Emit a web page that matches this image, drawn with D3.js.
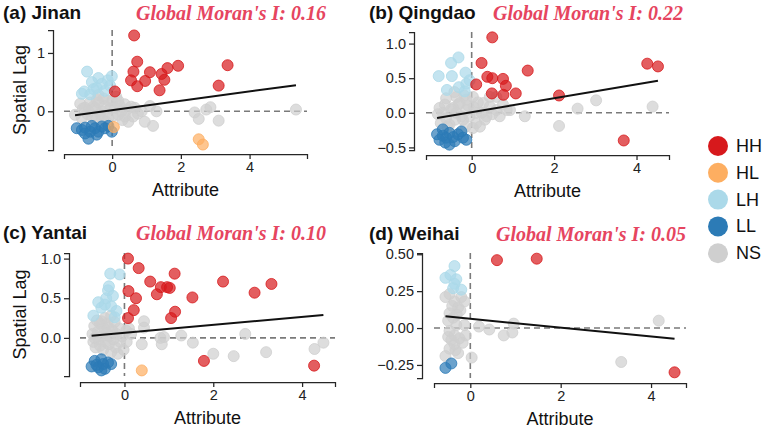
<!DOCTYPE html>
<html><head><meta charset="utf-8">
<script src="https://cdn.jsdelivr.net/npm/d3@7"></script>
<style>body{margin:0;background:#fff}svg{display:block}</style>
</head><body>
<svg id="chart" width="767" height="429"></svg>
<script>
// ---------- DATA ----------
const cities = ["Jinan", "Qingdao", "Yantai", "Weihai"];
const panelLetters = ["(a)", "(b)", "(c)", "(d)"];
const moranI = ["0.16", "0.22", "0.10", "0.05"];
const classes = ["HH", "HL", "LH", "LL", "NS"];
const classColors = ["#d7191c", "#fdae61", "#abd9e9", "#2c7bb6", "#cfcfcf"];
const regSlope = [0.08, 0.10, 0.05, -0.03];
const regIntercept = [0.02, 0.01, 0.065, 0.063];
const xTicks = [0, 2, 4];
const yTicksJinan = [0, 1];
const yTicksQingdao = [-0.5, 0, 0.5, 1.0];
const yTicksYantai = [0, 0.5, 1.0];
const yTicksWeihai = [-0.25, 0, 0.25, 0.5];

// [attribute, spatial lag, cluster]
const jinanPoints = [
  [-1.08,-0.06,"NS"],[-0.93,0.13,"NS"],[-0.88,-0.12,"NS"],[-0.85,0.05,"NS"],[-0.79,0.06,"NS"],[-0.72,-0.05,"NS"],
  [-0.69,0.0,"NS"],[-0.65,0.15,"NS"],[-0.59,-0.09,"NS"],[-0.55,0.08,"NS"],[-0.50,0.06,"NS"],[-0.48,-0.15,"NS"],
  [-0.45,0.2,"NS"],[-0.40,0.15,"NS"],[-0.40,0.28,"NS"],[-0.35,-0.05,"NS"],[-0.30,0.0,"NS"],[-0.30,-0.12,"NS"],
  [-0.25,0.22,"NS"],[-0.21,0.09,"NS"],[-0.18,-0.18,"NS"],[-0.11,0.18,"NS"],[-0.11,-0.12,"NS"],[-0.05,0.05,"NS"],
  [0.0,0.18,"NS"],[0.02,-0.08,"NS"],[0.08,0.06,"NS"],[0.12,0.25,"NS"],[0.18,0.18,"NS"],[0.18,-0.06,"NS"],
  [0.22,0.1,"NS"],[0.27,0.0,"NS"],[0.3,-0.15,"NS"],[0.37,0.12,"NS"],[0.37,-0.09,"NS"],[0.42,0.02,"NS"],
  [0.47,-0.18,"NS"],[0.55,0.08,"NS"],[0.61,-0.09,"NS"],[0.66,0.06,"NS"],[0.75,-0.04,"NS"],[0.86,0.0,"NS"],
  [0.95,-0.18,"NS"],[1.10,0.09,"NS"],[1.19,-0.25,"NS"],[1.29,0.0,"NS"],[2.40,-0.02,"NS"],[2.52,-0.13,"NS"],
  [2.74,0.03,"NS"],[2.86,0.07,"NS"],[3.10,-0.16,"NS"],[5.35,0.03,"NS"],
  [-0.73,0.68,"LH"],[-0.40,0.57,"LH"],[-0.01,0.60,"LH"],[-0.59,0.50,"LH"],[-0.13,0.53,"LH"],[-0.81,0.34,"LH"],
  [-0.45,0.40,"LH"],[-0.30,0.47,"LH"],[-0.64,0.29,"LH"],[-0.21,0.35,"LH"],[-0.06,0.44,"LH"],[-0.88,0.30,"LH"],[-0.54,0.38,"LH"],
  [-1.03,-0.29,"LL"],[-0.79,-0.28,"LL"],[-0.69,-0.47,"LL"],[-0.50,-0.29,"LL"],[-0.40,-0.35,"LL"],[-0.30,-0.26,"LL"],
  [-0.11,-0.25,"LL"],[-0.01,-0.35,"LL"],[-0.64,-0.35,"LL"],[-0.88,-0.32,"LL"],[-0.21,-0.29,"LL"],[-0.59,-0.25,"LL"],
  [-0.45,-0.40,"LL"],[-0.79,-0.38,"LL"],
  [0.05,-0.27,"HL"],[2.52,-0.48,"HL"],[2.64,-0.57,"HL"],
  [0.64,1.30,"HH"],[0.73,0.85,"HH"],[0.62,0.68,"HH"],[0.55,0.53,"HH"],[0.96,0.52,"HH"],[0.73,0.43,"HH"],
  [1.10,0.67,"HH"],[1.44,0.64,"HH"],[1.61,0.74,"HH"],[1.52,0.54,"HH"],[1.92,0.78,"HH"],[1.38,0.36,"HH"],
  [3.10,0.44,"HH"],[3.36,0.79,"HH"],[0.08,0.34,"HH"]
];
const qingdaoPoints = [
  [-0.82,-0.02,"NS"],[-0.78,0.07,"NS"],[-0.75,-0.15,"NS"],[-0.70,0.0,"NS"],[-0.65,0.12,"NS"],[-0.62,0.21,"NS"],
  [-0.62,-0.08,"NS"],[-0.58,-0.2,"NS"],[-0.54,-0.17,"NS"],[-0.5,0.05,"NS"],[-0.45,0.07,"NS"],[-0.42,0.3,"NS"],
  [-0.4,-0.1,"NS"],[-0.37,0.23,"NS"],[-0.37,0.0,"NS"],[-0.32,0.12,"NS"],[-0.29,0.14,"NS"],[-0.25,-0.05,"NS"],
  [-0.21,-0.10,"NS"],[-0.18,0.25,"NS"],[-0.15,-0.2,"NS"],[-0.13,0.19,"NS"],[-0.13,0.04,"NS"],[-0.08,0.1,"NS"],
  [-0.05,-0.05,"NS"],[0.03,0.23,"NS"],[0.03,-0.22,"NS"],[0.05,0.08,"NS"],[0.11,0.0,"NS"],[0.11,-0.15,"NS"],
  [0.15,0.15,"NS"],[0.2,-0.2,"NS"],[0.24,0.0,"NS"],[0.28,0.14,"NS"],[0.32,-0.1,"NS"],[0.36,-0.05,"NS"],
  [0.44,0.09,"NS"],[0.44,0.23,"NS"],[0.5,-0.02,"NS"],[0.6,0.23,"NS"],[0.6,0.04,"NS"],[0.68,-0.05,"NS"],
  [0.76,0.12,"NS"],[0.85,0.04,"NS"],[0.93,0.04,"NS"],[1.29,-0.05,"NS"],[2.12,-0.19,"NS"],[2.57,0.06,"NS"],
  [3.02,0.18,"NS"],[4.39,0.09,"NS"],
  [-0.50,0.72,"LH"],[-0.32,0.80,"LH"],[-0.80,0.53,"LH"],[-0.48,0.53,"LH"],[-0.15,0.58,"LH"],[-0.60,0.33,"LH"],
  [-0.31,0.37,"LH"],[-0.13,0.42,"LH"],[-0.17,0.31,"LH"],[-0.05,0.47,"LH"],
  [-0.78,-0.39,"LL"],[-0.70,-0.24,"LL"],[-0.54,-0.29,"LL"],[-0.54,-0.46,"LL"],[-0.33,-0.31,"LL"],[-0.21,-0.36,"LL"],
  [-0.62,-0.36,"LL"],[-0.41,-0.41,"LL"],[-0.25,-0.27,"LL"],[-0.84,-0.31,"LL"],[-0.13,-0.39,"LL"],[-0.64,-0.43,"LL"],
  [-0.70,-0.33,"LL"],[-0.45,-0.35,"LL"],
  [0.50,1.09,"HH"],[0.24,0.72,"HH"],[1.36,0.61,"HH"],[0.11,0.41,"HH"],[0.38,0.52,"HH"],[0.50,0.50,"HH"],
  [0.76,0.49,"HH"],[0.83,0.39,"HH"],[0.49,0.28,"HH"],[0.77,0.26,"HH"],[1.07,0.28,"HH"],[2.12,0.25,"HH"],
  [3.69,-0.40,"HH"],[4.26,0.71,"HH"],[4.52,0.67,"HH"]
];
const yantaiPoints = [
  [-0.72,0.05,"NS"],[-0.70,-0.05,"NS"],[-0.68,0.15,"NS"],[-0.67,0.0,"NS"],[-0.65,-0.12,"NS"],[-0.62,0.22,"NS"],
  [-0.6,0.08,"NS"],[-0.58,-0.02,"NS"],[-0.55,0.18,"NS"],[-0.55,-0.1,"NS"],[-0.52,0.21,"NS"],[-0.5,0.03,"NS"],
  [-0.48,-0.15,"NS"],[-0.46,0.12,"NS"],[-0.44,0.25,"NS"],[-0.42,-0.05,"NS"],[-0.40,0.06,"NS"],[-0.38,0.18,"NS"],
  [-0.37,0.13,"NS"],[-0.35,-0.08,"NS"],[-0.33,0.02,"NS"],[-0.3,0.28,"NS"],[-0.3,-0.18,"NS"],[-0.28,0.1,"NS"],
  [-0.25,-0.02,"NS"],[-0.22,0.2,"NS"],[-0.2,-0.12,"NS"],[-0.18,0.05,"NS"],[-0.15,-0.2,"NS"],[-0.12,0.12,"NS"],
  [-0.1,-0.05,"NS"],[-0.05,0.02,"NS"],[-0.02,-0.15,"NS"],[0.04,0.09,"NS"],[0.05,-0.05,"NS"],[0.1,0.12,"NS"],
  [0.15,0.05,"NS"],[0.44,0.21,"NS"],[0.44,0.13,"NS"],[0.39,-0.08,"NS"],[0.81,0.0,"NS"],[0.89,0.01,"NS"],
  [0.84,-0.08,"NS"],[1.28,0.03,"NS"],[1.54,-0.06,"NS"],[2.00,-0.20,"NS"],[2.46,-0.23,"NS"],[2.72,0.05,"NS"],
  [3.19,-0.18,"NS"],[4.28,-0.14,"NS"],[4.48,-0.06,"NS"],
  [-0.32,0.81,"LH"],[-0.11,0.80,"LH"],[-0.37,0.60,"LH"],[-0.35,0.65,"LH"],[-0.59,0.45,"LH"],[-0.44,0.42,"LH"],
  [-0.30,0.40,"LH"],[-0.52,0.38,"LH"],[-0.18,0.34,"LH"],[-0.70,0.28,"LH"],[-0.22,0.26,"LH"],[-0.41,0.50,"LH"],[-0.26,0.53,"LH"],
  [-0.67,-0.29,"LL"],[-0.52,-0.27,"LL"],[-0.37,-0.31,"LL"],[-0.59,-0.37,"LL"],[-0.44,-0.39,"LL"],[-0.74,-0.36,"LL"],
  [-0.30,-0.33,"LL"],[-0.52,-0.41,"LL"],[-0.63,-0.34,"LL"],[-0.48,-0.33,"LL"],
  [0.39,-0.41,"HL"],
  [0.08,1.00,"HH"],[0.32,0.88,"HH"],[0.58,0.71,"HH"],[1.13,0.81,"HH"],[0.82,0.64,"HH"],[0.96,0.64,"HH"],
  [1.02,0.63,"HH"],[0.73,0.55,"HH"],[0.09,0.59,"HH"],[0.26,0.50,"HH"],[0.21,0.35,"HH"],[0.08,0.25,"HH"],
  [1.14,0.33,"HH"],[1.05,0.25,"HH"],[1.53,0.51,"HH"],[2.22,0.71,"HH"],[2.93,0.57,"HH"],[3.31,0.68,"HH"],
  [1.79,-0.29,"HH"],[4.27,-0.35,"HH"]
];
const weihaiPoints = [
  [-0.55,0.21,"NS"],[-0.46,0.23,"NS"],[-0.35,0.18,"NS"],[-0.20,0.21,"NS"],[-0.13,0.18,"NS"],[-0.27,0.14,"NS"],
  [-0.46,0.10,"NS"],[-0.38,0.07,"NS"],[-0.49,0.05,"NS"],[-0.31,0.02,"NS"],[-0.46,-0.02,"NS"],[-0.35,-0.05,"NS"],
  [-0.49,-0.06,"NS"],[-0.24,-0.07,"NS"],[-0.17,-0.10,"NS"],[-0.35,-0.11,"NS"],[-0.46,-0.14,"NS"],[-0.27,-0.17,"NS"],
  [-0.55,-0.19,"NS"],[-0.10,-0.05,"NS"],[-0.13,0.02,"NS"],[-0.40,0.15,"NS"],[-0.30,0.09,"NS"],[-0.22,0.12,"NS"],
  [-0.42,-0.08,"NS"],[-0.33,-0.15,"NS"],[0.03,-0.20,"NS"],[0.19,0.01,"NS"],[0.42,-0.01,"NS"],[0.74,-0.05,"NS"],
  [0.93,-0.03,"NS"],[0.96,0.03,"NS"],[3.34,-0.23,"NS"],[4.17,0.05,"NS"],
  [-0.35,0.42,"LH"],[-0.55,0.34,"LH"],[-0.44,0.36,"LH"],[-0.31,0.33,"LH"],[-0.35,0.30,"LH"],[-0.38,0.27,"LH"],[-0.20,0.26,"LH"],
  [-0.55,-0.27,"LL"],[-0.42,-0.24,"LL"],
  [0.59,0.46,"HH"],[1.47,0.47,"HH"],[4.52,-0.30,"HH"]
];
const allPoints = [jinanPoints, qingdaoPoints, yantaiPoints, weihaiPoints];
const allYTicks = [yTicksJinan, yTicksQingdao, yTicksYantai, yTicksWeihai];
const yFormats = ["d", ".1f", ".1f", ".2f"];

// ---------- LAYOUT ----------
const layouts = [
  {left:64, right:307, top:30, bottom:150, ySpine:53, xSpine:154, titleX:3, titleY:12, moranX:326, ylab:true},
  {left:426, right:669, top:32, bottom:150, ySpine:414, xSpine:155, titleX:369, titleY:12, moranX:683, ylab:false},
  {left:80, right:335, top:253, bottom:376, ySpine:69, xSpine:382, titleX:3, titleY:232, moranX:326, ylab:true},
  {left:434, right:686, top:253, bottom:378, ySpine:422, xSpine:383, titleX:369, titleY:233, moranX:686, ylab:false}
];

const svg = d3.select("#chart");
const color = d3.scaleOrdinal().domain(classes).range(classColors);
const font = "'Liberation Sans', Arial, sans-serif";
const axisCol = "#262626";

function padded(ext) { const m = (ext[1]-ext[0])*0.05; return [ext[0]-m, ext[1]+m]; }

allPoints.forEach((pts, i) => {
  const L = layouts[i];
  const x = d3.scaleLinear().domain(padded(d3.extent(pts, d => d[0]))).range([L.left, L.right]);
  const y = d3.scaleLinear().domain(padded(d3.extent(pts, d => d[1]))).range([L.bottom, L.top]);
  const g = svg.append("g");

  // dashed reference lines
  g.append("line").attr("x1", L.left).attr("x2", L.right).attr("y1", y(0)).attr("y2", y(0))
    .attr("stroke", "#7a7a7a").attr("stroke-width", 1.6).attr("stroke-dasharray", "6,4");
  g.append("line").attr("x1", x(0)).attr("x2", x(0)).attr("y1", L.top).attr("y2", L.bottom)
    .attr("stroke", "#7a7a7a").attr("stroke-width", 1.6).attr("stroke-dasharray", "6,4");

  // points: NS first, then clusters
  const order = ["NS", "LH", "LL", "HL", "HH"];
  const sorted = pts.slice().sort((a, b) => order.indexOf(a[2]) - order.indexOf(b[2]));
  g.selectAll("circle.pt").data(sorted).join("circle").attr("class", "pt")
    .attr("cx", d => x(d[0])).attr("cy", d => y(d[1])).attr("r", 5.5)
    .attr("fill", d => color(d[2])).attr("fill-opacity", 0.7)
    .attr("stroke", d => color(d[2])).attr("stroke-opacity", 0.8).attr("stroke-width", 1);

  // regression line
  const xr = d3.extent(pts, d => d[0]);
  g.append("line").attr("x1", x(xr[0])).attr("x2", x(xr[1]))
    .attr("y1", y(regIntercept[i] + regSlope[i]*xr[0])).attr("y2", y(regIntercept[i] + regSlope[i]*xr[1]))
    .attr("stroke", "#111").attr("stroke-width", 2);

  // axes (offset spines)
  const xAxis = g.append("g").attr("transform", `translate(0,${L.xSpine})`)
    .call(d3.axisBottom(x).tickValues(xTicks).tickFormat(d3.format("d")).tickSizeOuter(0).tickSize(5).tickPadding(3));
  const yAxis = g.append("g").attr("transform", `translate(${L.ySpine},0)`)
    .call(d3.axisLeft(y).tickValues(allYTicks[i]).tickFormat(d3.format(yFormats[i])).tickSizeOuter(0).tickSize(5).tickPadding(3));
  [xAxis, yAxis].forEach(a => {
    a.selectAll("path,line").attr("stroke", axisCol).attr("stroke-width", 1.25);
    a.selectAll("text").attr("font-family", font).attr("font-size", 14.5).attr("fill", "#222");
  });

  // axis labels
  g.append("text").attr("x", (L.left + L.right)/2).attr("y", L.xSpine + 42)
    .attr("text-anchor", "middle").attr("font-family", font).attr("font-size", 18).attr("fill", "#111").text("Attribute");
  if (L.ylab) {
    g.append("text").attr("transform", `translate(20,${(L.top + L.bottom)/2}) rotate(-90)`)
      .attr("text-anchor", "middle").attr("dominant-baseline", "central")
      .attr("font-family", font).attr("font-size", 18).attr("fill", "#111").text("Spatial Lag");
  }

  // titles
  g.append("text").attr("x", L.titleX).attr("y", L.titleY).attr("dominant-baseline", "central")
    .attr("font-family", font).attr("font-weight", "bold").attr("font-size", 19).attr("fill", "#111")
    .text(`${panelLetters[i]} ${cities[i]}`);
  g.append("text").attr("x", L.moranX).attr("y", L.titleY + 1).attr("dominant-baseline", "central")
    .attr("text-anchor", "end").attr("font-family", "'Liberation Serif', 'Times New Roman', serif")
    .attr("font-style", "italic").attr("font-weight", "bold").attr("font-size", 20).attr("fill", "#e6455f")
    .text(`Global Moran's I: ${moranI[i]}`);
});

// legend
const lg = svg.append("g");
classes.forEach((c, k) => {
  const yy = 146 + k*26.8;
  lg.append("circle").attr("cx", 718).attr("cy", yy).attr("r", 10).attr("fill", color(c));
  lg.append("text").attr("x", 736).attr("y", yy).attr("dominant-baseline", "central")
    .attr("font-family", font).attr("font-size", 18).attr("fill", "#111").text(c);
});
</script>
</body></html>
